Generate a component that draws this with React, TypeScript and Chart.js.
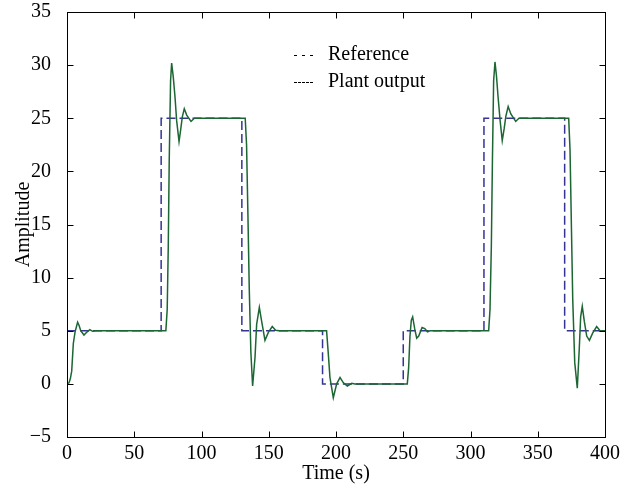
import React, { useEffect, useRef } from "react";
import { Chart, registerables } from "chart.js";

Chart.register(...registerables);

// Reference (step) signal: value held from each time until the next
const refTime = [0, 70, 130, 190, 250, 310, 370, 400];
const refValue = [5, 25, 5, 0, 5, 25, 5, 5];

// Plant output
const plantTime = [
  0, 1.5, 2.5, 3.5, 4.7, 6, 7.9, 9, 10.2, 12.6, 15, 17, 19, 21,
  73.5, 74.5, 75.3, 76, 77, 77.8, 79, 80.3, 81.5, 83.3, 84.5, 85.7, 87.2, 89, 92.2, 94.7, 97,
  132.5, 133.5, 134.5, 135.5, 136.7, 138, 139.8, 141, 143, 144.7, 147.2, 149.7, 152.6, 155.1, 157.6,
  193, 194.3, 195.5, 198, 200.5, 203, 205.5, 208.4, 211.7, 214,
  253, 254, 255, 256, 257, 258.5, 260, 261.5, 264, 266, 268, 270,
  313.5, 314.5, 315.5, 316.3, 317.2, 318.2, 319.3, 320.5, 322, 323.6, 325, 326.3, 328, 330, 333.6, 336, 339.3,
  373, 374, 375, 376, 377.5, 379.4, 380.9, 381.9, 383.1, 384.6, 386.4, 388.4, 390.9, 393.8, 396.3, 400,
];
const plantValue = [
  0, 0.1, 0.5, 1.2, 3.8, 4.9, 5.8, 5.5, 5.0, 4.6, 4.9, 5.1, 4.95, 5.0,
  5, 7, 13, 21, 28.5, 30.2, 28.9, 27, 24.8, 22.8, 23.9, 25.1, 25.9, 25.3, 24.7, 25.0, 25,
  25, 22.5, 16, 9, 3, -0.2, 2.5, 5.6, 7.2, 5.9, 4.1, 4.85, 5.4, 5.05, 5,
  5, 2.8, 0.6, -1.3, 0, 0.6, 0.1, -0.2, 0.05, 0,
  0, 1.5, 4.5, 6.0, 6.3, 5.2, 4.3, 4.5, 5.3, 5.2, 4.9, 5,
  5, 7, 13, 21, 28.5, 30.3, 29, 27, 24.8, 22.9, 24, 25.2, 26.1, 25.4, 24.7, 25.0, 25,
  25, 22, 15, 8, 2, -0.4, 3.4, 6.3, 7.3, 5.9, 4.5, 4.1, 4.8, 5.4, 5.0, 5,
];

const xTicks = [0, 50, 100, 150, 200, 250, 300, 350, 400];
const yTicks = [-5, 0, 5, 10, 15, 20, 25, 30, 35];

const FONT = '"Liberation Serif", "Times New Roman", serif';

const framePlugin = {
  id: "frame",
  afterDatasetsDraw(chart: any) {
    const { ctx, chartArea: a, scales } = chart;
    ctx.save();
    ctx.strokeStyle = "#000";
    ctx.lineWidth = 1;
    ctx.setLineDash([]);
    const L = Math.round(a.left) + 0.5;
    const R = Math.round(a.right) + 0.5;
    const T = Math.round(a.top) + 0.5;
    const B = Math.round(a.bottom) + 0.5;
    ctx.strokeRect(L, T, R - L, B - T);
    const tl = 6;
    ctx.beginPath();
    for (const v of xTicks) {
      const x = Math.round(scales.x.getPixelForValue(v)) + 0.5;
      ctx.moveTo(x, B);
      ctx.lineTo(x, B - tl);
      ctx.moveTo(x, T);
      ctx.lineTo(x, T + tl);
    }
    for (const v of yTicks) {
      const y = Math.round(scales.y.getPixelForValue(v)) + 0.5;
      ctx.moveTo(L, y);
      ctx.lineTo(L + tl, y);
      ctx.moveTo(R, y);
      ctx.lineTo(R - tl, y);
    }
    ctx.stroke();

    // legend
    ctx.fillStyle = "#000";
    ctx.font = `20px ${FONT}`;
    ctx.textBaseline = "alphabetic";
    ctx.textAlign = "left";
    ctx.fillText("Reference", 328, 60);
    ctx.fillText("Plant output", 328, 87);
    ctx.lineWidth = 1;
    ctx.setLineDash([3, 5]);
    ctx.beginPath();
    ctx.moveTo(294, 55.5);
    ctx.lineTo(314, 55.5);
    ctx.stroke();
    ctx.setLineDash([3, 1]);
    ctx.beginPath();
    ctx.moveTo(294, 82.5);
    ctx.lineTo(314, 82.5);
    ctx.stroke();
    ctx.restore();
  },
};

export default function App() {
  const ref = useRef<HTMLCanvasElement>(null);
  useEffect(() => {
    const refData = refTime.map((t, i) => ({ x: t, y: refValue[i] }));
    const plantData = plantTime.map((t, i) => ({ x: t, y: plantValue[i] }));
    const chart = new Chart(ref.current!, {
      type: "line",
      data: {
        datasets: [
          {
            label: "Plant output",
            data: plantData,
            borderColor: "#1b6632",
            borderWidth: 1.5,
            pointRadius: 0,
            tension: 0,
            order: 0,
          },
          {
            label: "Reference",
            data: refData,
            borderColor: "#343494",
            borderWidth: 1.5,
            borderDash: [9, 4],
            pointRadius: 0,
            stepped: "before",
            order: 1,
          },
        ],
      },
      options: {
        animation: false,
        responsive: false,
        layout: { padding: { top: 12, right: 27, left: 0, bottom: 0 } },
        plugins: { legend: { display: false }, tooltip: { enabled: false } },
        scales: {
          x: {
            type: "linear",
            min: 0,
            max: 400,
            afterFit: (s: any) => {
              s.height = 47;
              s.paddingLeft = 0;
              s.paddingRight = 0;
            },
            afterBuildTicks: (s: any) => {
              s.ticks = xTicks.map((v) => ({ value: v }));
            },
            grid: { display: false },
            border: { display: false },
            ticks: {
              color: "#000",
              padding: -3,
              maxRotation: 0,
              autoSkip: false,
              font: { family: FONT, size: 20 },
            },
            title: {
              display: true,
              text: "Time (s)",
              color: "#000",
              font: { family: FONT, size: 20, lineHeight: 1 },
              padding: { top: 0, bottom: 0 },
            },
          },
          y: {
            type: "linear",
            min: -5,
            max: 35,
            afterFit: (s: any) => {
              s.width = 67;
              s.paddingTop = 0;
              s.paddingBottom = 0;
            },
            afterBuildTicks: (s: any) => {
              s.ticks = yTicks.map((v) => ({ value: v }));
            },
            grid: { display: false },
            border: { display: false },
            ticks: {
              color: "#000",
              padding: 8,
              autoSkip: false,
              font: { family: FONT, size: 20 },
              callback: (v: any) => (v < 0 ? "\u2212" + Math.abs(v) : String(v)),
            },
            title: {
              display: true,
              text: "Amplitude",
              color: "#000",
              font: { family: FONT, size: 20, lineHeight: 1 },
              padding: { top: 14, bottom: 0 },
            },
          },
        },
      },
      plugins: [framePlugin],
    });
    return () => chart.destroy();
  }, []);
  return (
    <div style={{ position: "absolute", left: 0, top: 0, width: 632, height: 484, background: "#fff" }}>
      <canvas ref={ref} width={632} height={484} />
    </div>
  );
}
